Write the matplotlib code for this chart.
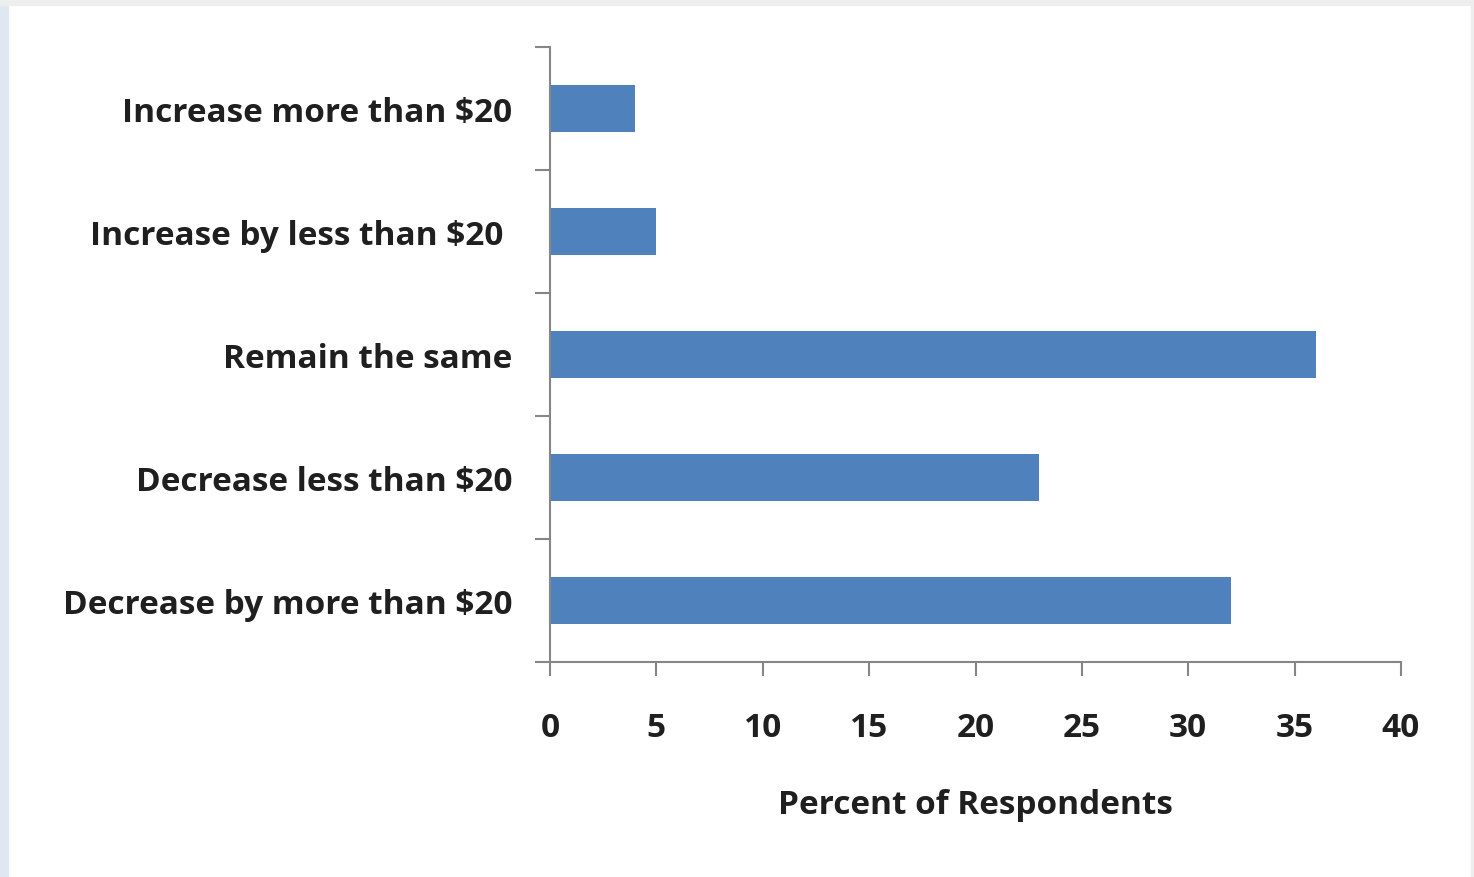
import matplotlib
matplotlib.use("Agg")
import matplotlib.pyplot as plt
from matplotlib.patches import Rectangle
import numpy as np

categories = ["Decrease by more than $20", "Decrease less than $20", "Remain the same",
              "Increase by less than $20 ", "Increase more than $20"]
values = [32, 23, 36, 5, 4]
xticks = [0, 5, 10, 15, 20, 25, 30, 35, 40]
xlabel = "Percent of Respondents"

plt.rcParams['font.family'] = ['Open Sans', 'DejaVu Sans']
W, H = 1474, 878
fig = plt.figure(figsize=(W/100, H/100), dpi=100)
fig.patch.set_facecolor('white')

# screenshot frame edges
fig.add_artist(Rectangle((0, 0), 8/W, 1, transform=fig.transFigure, color='#dfe8f2', zorder=0))
fig.add_artist(Rectangle((0, 1-6/H), 1, 6/H, transform=fig.transFigure, color='#eeeeee', zorder=0))
fig.add_artist(Rectangle((1-3/W, 0), 3/W, 1, transform=fig.transFigure, color='#eeeeee', zorder=0))

ax = fig.add_axes([550/W, 1-663/H, (1401-550)/W, (663-48)/H])
ypos = np.arange(len(categories))
ax.barh(ypos, values, height=0.39, color='#4F81BD', zorder=2)

ax.set_xlim(0, 40)
ax.set_ylim(-0.5, len(categories)-0.5)
ax.set_xticks(xticks)
ax.set_xticklabels([str(t) for t in xticks])
ax.set_yticks(ypos)
ax.set_yticklabels(categories)
ax.set_yticks(np.arange(-0.5, len(categories), 1.0), minor=True)

txtc = '#1f1f1f'
axc = '#868686'
fs = 24
ax.tick_params(axis='y', which='major', length=0, pad=27, labelsize=fs, labelcolor=txtc)
ax.tick_params(axis='y', which='minor', length=11, width=1.5, color=axc, direction='out')
ax.tick_params(axis='x', which='major', length=10, width=1.5, color=axc, direction='out',
               pad=25, labelsize=fs, labelcolor=txtc)
for lab in ax.get_yticklabels() + ax.get_xticklabels():
    lab.set_fontweight('bold')

for s in ['top', 'right']:
    ax.spines[s].set_visible(False)
for s in ['left', 'bottom']:
    ax.spines[s].set_color(axc)
    ax.spines[s].set_linewidth(1.5)

ax.set_xlabel(xlabel, fontsize=fs, fontweight='bold', color=txtc, labelpad=32)
ax.set_facecolor('white')

fig.savefig('out.png', dpi=100, facecolor='white')
